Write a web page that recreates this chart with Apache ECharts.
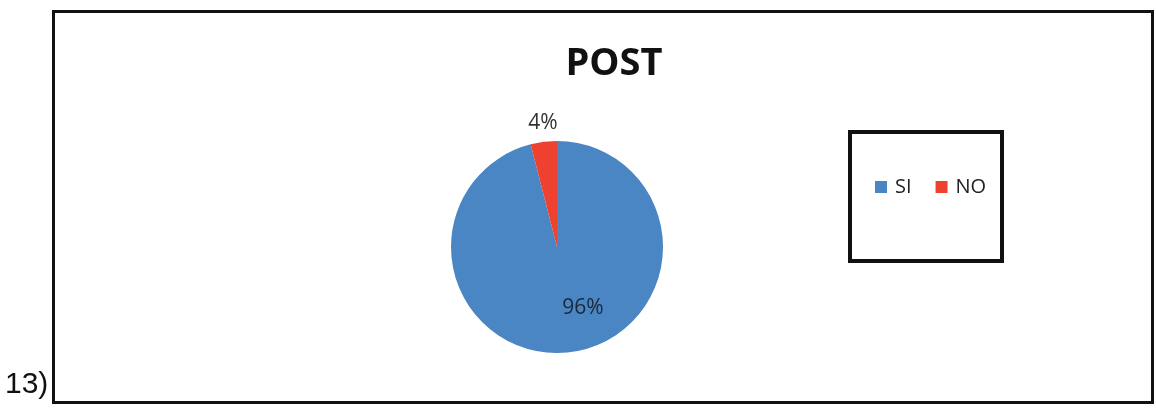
<!DOCTYPE html>
<html>
<head>
<meta charset="utf-8">
<script src="https://cdn.jsdelivr.net/npm/echarts@6/dist/echarts.min.js"></script>
<style>
html,body{margin:0;padding:0;background:#fff;}
#c{width:1156px;height:414px;}
</style>
</head>
<body>
<div id="c"></div>
<script>
const categories = ['SI', 'NO'];
const values = [96, 4];
const colors = ['#4a85c4', '#ee4130'];
const titleText = 'POST';
const sideLabel = '13)';

const chart = echarts.init(document.getElementById('c'), null, {renderer: 'canvas'});
const labelOffsets = [[19, 5], [-7, -68]];
chart.setOption({
  backgroundColor: '#ffffff',
  animation: false,
  title: {
    text: titleText,
    left: 609, top: 40, textAlign: 'center',
    textStyle: {fontFamily: 'Open Sans', fontWeight: 'bold', fontSize: 38, color: '#111'}
  },
  legend: {
    data: categories,
    left: 870, top: 172,
    itemWidth: 12, itemHeight: 12, itemGap: 24,
    icon: 'rect',
    textStyle: {fontFamily: 'Open Sans', fontSize: 20, color: '#222', padding: [0, 0, 0, 3]}
  },
  graphic: [
    {type: 'rect', shape: {x: 53.5, y: 11.5, width: 1099, height: 391}, style: {fill: null, stroke: '#111', lineWidth: 3}},
    {type: 'rect', shape: {x: 850, y: 132, width: 152, height: 129}, style: {fill: null, stroke: '#111', lineWidth: 4}},
    {type: 'text', left: 5, top: 370, style: {text: sideLabel, fontFamily: 'Liberation Sans', fontSize: 30, fill: '#111'}}
  ],
  series: [{
    type: 'pie',
    center: [557, 247],
    radius: [0, 106],
    startAngle: 90,
    clockwise: true,
    silent: true,
    labelLine: {show: false},
    data: categories.map((name, i) => ({
      name: name,
      value: values[i],
      itemStyle: {color: colors[i]},
      label: {
        show: true, position: 'inside', formatter: '{d}%',
        offset: labelOffsets[i],
        fontFamily: 'Open Sans', fontSize: 21, color: i === 0 ? '#1c2838' : '#333'
      }
    }))
  }]
});
</script>
</body>
</html>
